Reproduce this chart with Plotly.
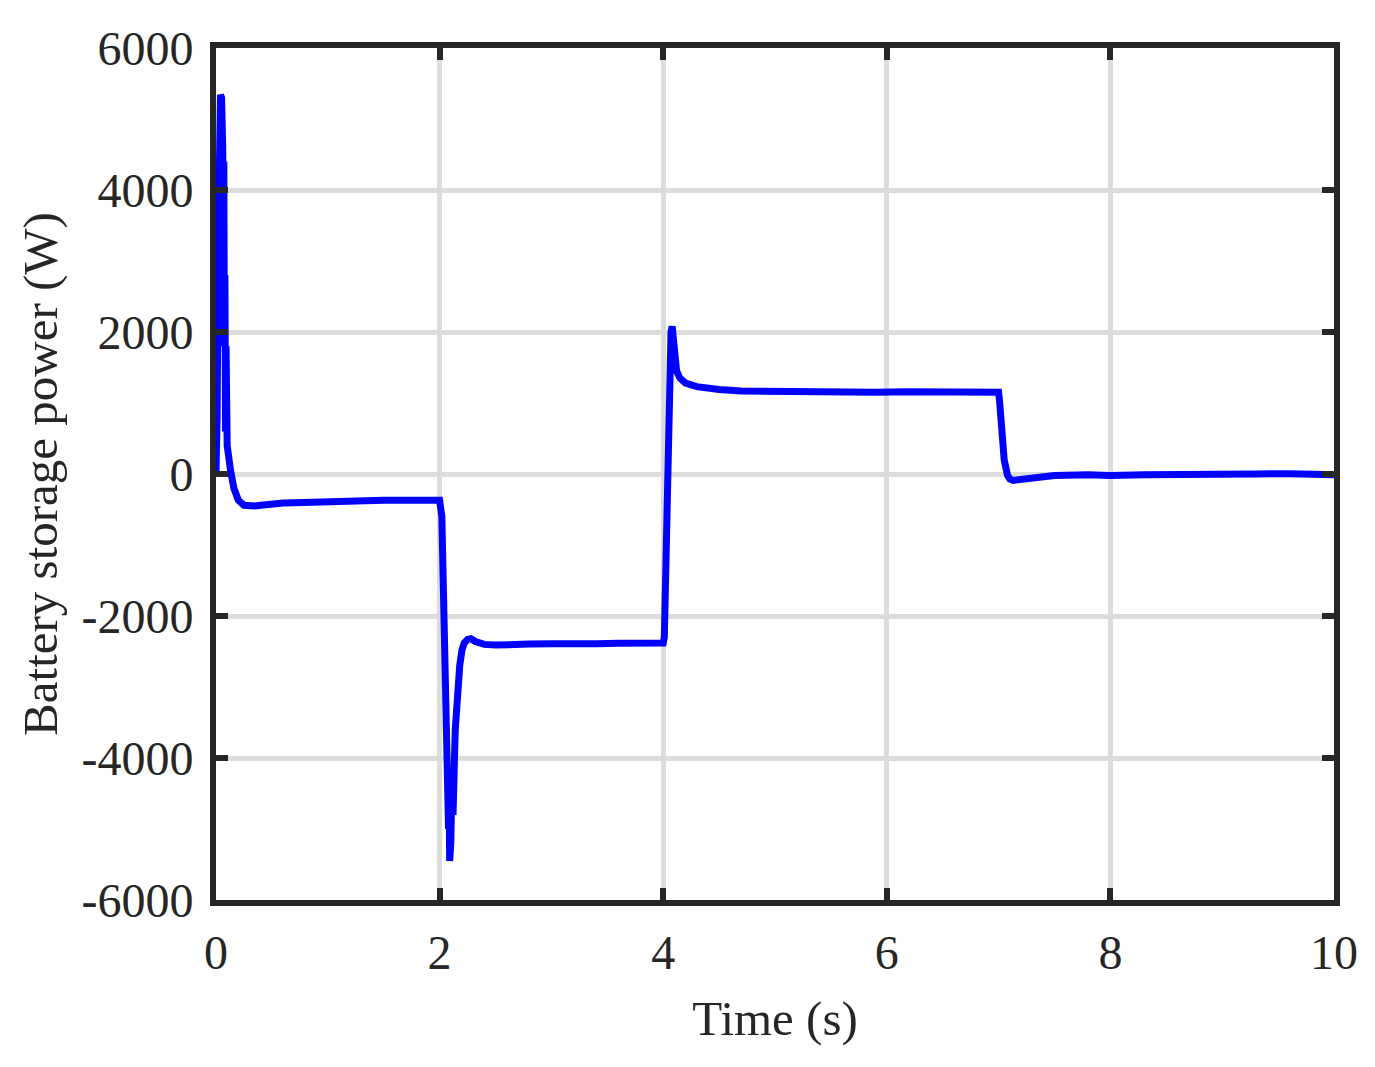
import plotly.graph_objects as go

# Time (s) and battery storage power (W)
time_s = [
    0, 0.01, 0.02, 0.03, 0.04, 0.05, 0.06, 0.065, 0.07, 0.075, 0.08, 0.085, 0.09, 0.1, 0.11,
    0.13, 0.16, 0.2, 0.25, 0.3, 0.35, 0.4, 0.5, 0.6, 0.7, 0.8, 0.9, 1.0, 1.05, 1.1, 1.2, 1.3,
    1.4, 1.5, 1.6, 1.7, 1.8, 1.9, 1.98, 2.0,
    2.02, 2.04, 2.06, 2.08, 2.085, 2.09, 2.1, 2.11, 2.12, 2.14, 2.16, 2.18, 2.2, 2.22, 2.25,
    2.28, 2.32, 2.4, 2.5, 2.6, 2.8, 3.0, 3.2, 3.4, 3.6, 3.8, 3.95, 4.0,
    4.01, 4.02, 4.03, 4.04, 4.05, 4.06, 4.07, 4.08, 4.09, 4.1, 4.12, 4.15, 4.2, 4.3, 4.4,
    4.5, 4.7, 5.0, 5.3, 5.6, 5.9, 6.2, 6.5, 6.8, 6.95, 7.0,
    7.01, 7.03, 7.05, 7.08, 7.1, 7.13, 7.18, 7.25, 7.35, 7.5, 7.8, 8.0, 8.3, 8.6, 9.0, 9.3,
    9.6, 9.8, 10.0,
]
power_w = [
    0, 800, 3200, 5300, 5340, 5300, 4600, 3000, 4400, 1800, 2800, 600, 1800, 400, 250,
    50, -200, -370, -440, -450, -450, -440, -420, -410, -405, -400, -395, -385, -370, -390, -385, -380,
    -375, -370, -370, -365, -360, -365, -360, -370,
    -600, -2000, -3800, -5000, -4300, -5450, -5200, -4400, -4800, -3600, -3000, -2700, -2480, -2380, -2330,
    -2320, -2360, -2400, -2410, -2400, -2395, -2390, -2400, -2390, -2385, -2390, -2385, -2380,
    -2300, -1500, -500, 300, 900, 1400, 2000, 2080, 1900, 1600, 1450, 1350, 1280, 1230, 1200,
    1190, 1170, 1160, 1150, 1160, 1150, 1160, 1155, 1160, 1165, 1150,
    1000, 600, 200, -20, -70, -90, -80, -50, -30, -20, -10, -20, -10, 0, -5, 0,
    5, 0, -10,
]

x_ticks = [0, 2, 4, 6, 8, 10]
y_ticks = [-6000, -4000, -2000, 0, 2000, 4000, 6000]
y_tick_labels = ["-6000", "-4000", "-2000", "0", "2000", "4000", "6000"]

fig = go.Figure()
fig.add_trace(go.Scatter(
    x=time_s, y=power_w, mode="lines",
    line=dict(color="#0000ff", width=7),
    showlegend=False,
))

font_family = "Liberation Serif, Times New Roman, serif"
axis_common = dict(
    showline=True, linecolor="#262626", linewidth=6, mirror="allticks",
    ticks="inside", ticklen=12, tickwidth=6, tickcolor="#262626",
    showgrid=True, gridcolor="#dcdcdc", gridwidth=5,
    zeroline=False,
    tickfont=dict(family=font_family, size=48, color="#262626"),
    title_font=dict(family=font_family, size=49, color="#262626"),
)

fig.update_xaxes(range=[0, 10], tickvals=x_ticks, title_text="Time (s)",
                 ticklabelstandoff=5, title_standoff=25, **axis_common)
fig.update_yaxes(range=[-6000, 6000], tickvals=y_ticks, ticktext=y_tick_labels,
                 ticklabelstandoff=7, title_text="Battery storage power (W)",
                 title_standoff=10, **axis_common)

fig.update_layout(
    width=1375, height=1067,
    margin=dict(l=208, r=49, t=40, b=175, autoexpand=False),
    plot_bgcolor="white", paper_bgcolor="white",
    font=dict(family=font_family, color="#262626"),
)

fig.write_html("out.html")
